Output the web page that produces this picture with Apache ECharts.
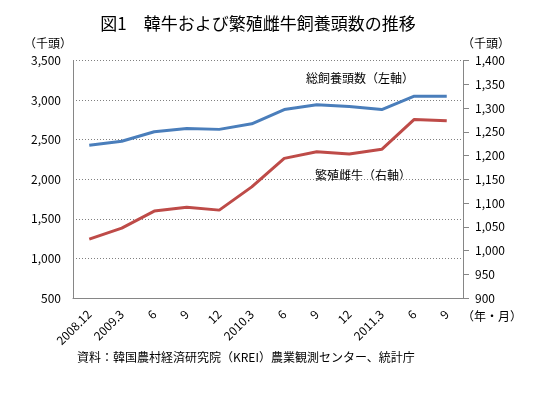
<!DOCTYPE html>
<html>
<head>
<meta charset="utf-8">
<script src="https://cdn.jsdelivr.net/npm/echarts@6/dist/echarts.min.js"></script>
<style>
    html, body { margin: 0; padding: 0; background: #fff; }
    #chart { width: 557px; height: 398px; }
</style>
</head>
<body>
<div id="chart"></div>
<script>
// 年・月
const months = ['2008.12', '2009.3', '6', '9', '12', '2010.3', '6', '9', '12', '2011.3', '6', '9'];
// 総飼養頭数（左軸, 千頭）
const totalHead = [2430, 2480, 2600, 2640, 2630, 2700, 2880, 2940, 2920, 2880, 3050, 3050];
// 繁殖雌牛（右軸, 千頭）
const breedingCows = [1024, 1047, 1083, 1091, 1085, 1134, 1194, 1208, 1203, 1213, 1276, 1273];

const font = '"Noto Sans CJK JP", sans-serif';
const axisGray = '#868686';

const chart = echarts.init(document.getElementById('chart'));
chart.setOption({
    animation: false,
    textStyle: { fontFamily: font, color: '#000' },
    title: {
        text: '図1　韓牛および繁殖雌牛飼養頭数の推移',
        left: 253,
        top: 10,
        textAlign: 'center',
        textStyle: { fontSize: 17, fontWeight: 'normal', fontFamily: font, color: '#000' }
    },
    grid: { left: 73, right: 94, top: 60.5, bottom: 100 },
    xAxis: {
        type: 'category',
        data: months,
        boundaryGap: true,
        axisLine: { lineStyle: { color: axisGray, width: 1 } },
        axisTick: { show: false },
        axisLabel: { rotate: 45, margin: 14, fontSize: 12, color: '#000', interval: 0 }
    },
    yAxis: [
        {
            type: 'value',
            min: 500,
            max: 3500,
            interval: 500,
            axisLine: { show: true, lineStyle: { color: axisGray } },
            axisTick: { show: false },
            axisLabel: {
                margin: 12, fontSize: 12, color: '#000',
                formatter: v => v.toLocaleString('en-US')
            },
            splitLine: { lineStyle: { color: '#808080', type: [1, 2], width: 1 } }
        },
        {
            type: 'value',
            min: 900,
            max: 1400,
            interval: 50,
            position: 'right',
            axisLine: { show: true, lineStyle: { color: axisGray } },
            axisTick: { show: true, inside: false, length: 6, lineStyle: { color: axisGray } },
            axisLabel: {
                margin: 12, fontSize: 12, color: '#000',
                formatter: v => v.toLocaleString('en-US')
            },
            splitLine: { show: false }
        }
    ],
    series: [
        {
            name: '総飼養頭数',
            type: 'line',
            yAxisIndex: 0,
            data: totalHead,
            showSymbol: false,
            lineStyle: { color: '#4a7ebb', width: 3 }
        },
        {
            name: '繁殖雌牛',
            type: 'line',
            yAxisIndex: 1,
            data: breedingCows,
            showSymbol: false,
            lineStyle: { color: '#be4b48', width: 3 }
        }
    ],
    graphic: [
        { type: 'text', left: 24, top: 37, style: { text: '（千頭）', font: '12px ' + font, fill: '#000' } },
        { type: 'text', left: 462, top: 37, style: { text: '（千頭）', font: '12px ' + font, fill: '#000' } },
        { type: 'text', left: 462, top: 310, style: { text: '（年・月）', font: '12px ' + font, fill: '#000' } },
        { type: 'text', left: 306, top: 72, style: { text: '総飼養頭数（左軸）', font: '12px ' + font, fill: '#000' } },
        { type: 'text', left: 315, top: 169, style: { text: '繁殖雌牛（右軸）', font: '12px ' + font, fill: '#000' } },
        { type: 'text', left: 77, top: 351, style: { text: '資料：韓国農村経済研究院（KREI）農業観測センター、統計庁', font: '12px ' + font, fill: '#000' } }
    ]
});
</script>
</body>
</html>
